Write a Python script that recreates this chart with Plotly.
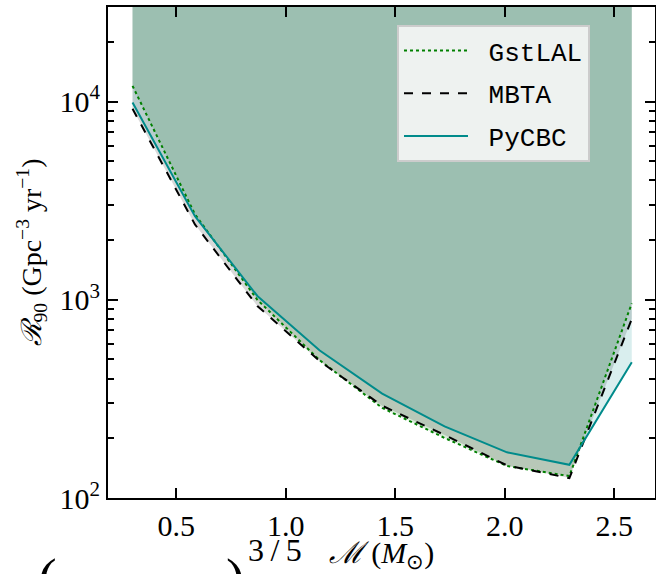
import plotly.graph_objects as go

# Chirp mass (M_sun)
chirp_mass = [0.30, 0.585, 0.87, 1.155, 1.44, 1.725, 2.01, 2.295, 2.58]
# 90% upper limits on rate (Gpc^-3 yr^-1)
gstlal = [12000, 2700, 1000, 495, 285, 201, 145, 129, 960]
mbta = [9200, 2400, 930, 490, 292, 208, 146, 126, 800]
pycbc = [9900, 2640, 1045, 555, 336, 230, 170, 147, 484]

series = [
    ("GstLAL", gstlal, "#008000", "dot", "rgba(0,128,0,0.15)"),
    ("MBTA", mbta, "#000000", "dash", "rgba(0,0,0,0.15)"),
    ("PyCBC", pycbc, "#008b8b", "solid", "rgba(0,139,139,0.15)"),
]

TOP = 1e6
fig = go.Figure()
# shaded regions above each pipeline's limit
for name, vals, col, dash, fcol in series:
    fig.add_trace(go.Scatter(x=chirp_mass, y=[TOP] * len(chirp_mass), mode="lines",
                             line=dict(width=0, color=fcol), showlegend=False,
                             hoverinfo="skip"))
    fig.add_trace(go.Scatter(x=chirp_mass, y=vals, mode="lines",
                             line=dict(width=0, color=fcol), showlegend=False,
                             fill="tonexty", fillcolor=fcol, hoverinfo="skip"))
# limit curves
for name, vals, col, dash, fcol in series:
    fig.add_trace(go.Scatter(x=chirp_mass, y=vals, mode="lines", name="\u00a0" + name,
                             line=dict(color=col, dash=dash, width=2),
                             legendgroup=name))

serif = "Liberation Serif"
fig.update_layout(
    width=656, height=574,
    margin=dict(l=108, r=1, t=7, b=76),
    paper_bgcolor="white", plot_bgcolor="white",
    font=dict(family=serif, size=30, color="black"),
    showlegend=True,
    legend=dict(x=(397 - 108) / 547, y=1 - (25 - 7) / 491, xanchor="left", yanchor="top",
                bgcolor="#eef2f0", bordercolor="#cccccc", borderwidth=2,
                font=dict(family="Liberation Mono", size=26, color="black"),
                itemwidth=64, tracegroupgap=6),
    xaxis=dict(range=[0.188, 2.686], tickvals=[0.5, 1.0, 1.5, 2.0, 2.5],
               ticktext=["0.5", "1.0", "1.5", "2.0", "2.5"],
               ticks="inside", ticklen=10, tickwidth=2, tickcolor="black",
               showline=True, linewidth=2, linecolor="black", mirror="allticks",
               showgrid=False, zeroline=False, automargin=False,
               title=dict(text="<i>ℳ</i> (<i>M</i><sub>⊙</sub>)", standoff=0,
                          font=dict(size=30))),
    yaxis=dict(type="log", range=[2, 4.477],
               tickvals=[100, 1000, 10000],
               ticktext=["10<sup>2</sup>", "10<sup>3</sup>", "10<sup>4</sup>"],
               ticks="inside", ticklen=10, tickwidth=2, tickcolor="black",
               minor=dict(ticks="inside", ticklen=6, tickwidth=1.5, tickcolor="black",
                          dtick="D1", showgrid=False),
               showline=True, linewidth=2, linecolor="black", mirror="allticks",
               showgrid=False, zeroline=False, automargin=False,
               title=dict(text="<i>ℛ</i><sub>90</sub> (Gpc<sup>−3</sup> yr<sup>−1</sup>)",
                          standoff=10, font=dict(size=28))),
)

# cropped fragment of a neighbouring label at the bottom edge
frag = dict(xref="paper", yref="paper", showarrow=False, xanchor="left", yanchor="top")
fig.add_annotation(text="(", x=(36 - 108) / 547, y=1 - (546 - 7) / 491,
                   font=dict(family=serif, size=56, color="black"), **frag)
fig.add_annotation(text=")", x=(224 - 108) / 547, y=1 - (546 - 7) / 491,
                   font=dict(family=serif, size=56, color="black"), **frag)
fig.add_annotation(text="3\u2009/\u20095", x=(246 - 108) / 547, y=1 - (530 - 7) / 491,
                   font=dict(family=serif, size=32, color="black"), **frag)

fig.write_html("out.html",
               config={"displayModeBar": False},
               post_script="document.body.style.margin='0';"
                           "document.body.style.overflow='hidden';")
